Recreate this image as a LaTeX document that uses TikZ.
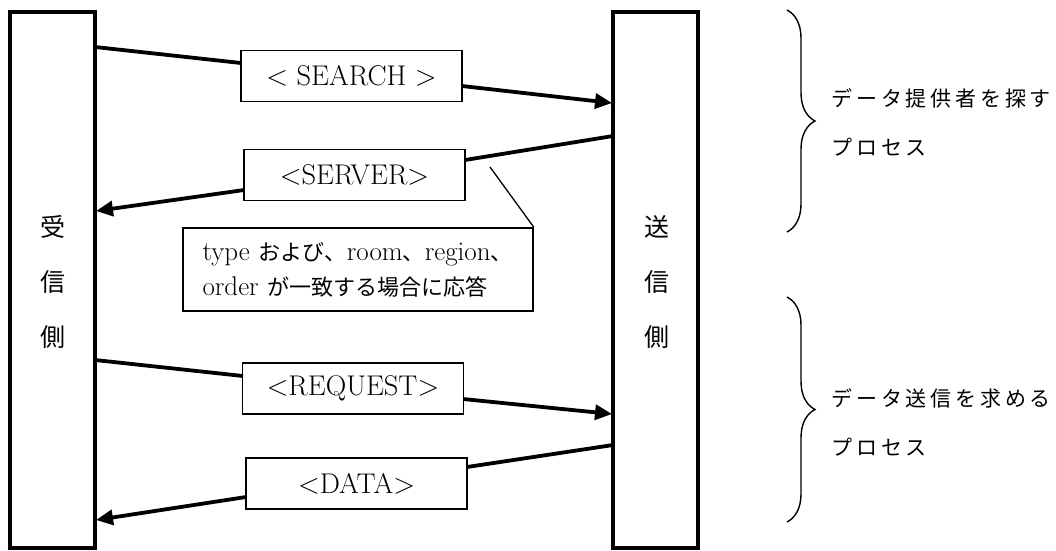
\documentclass[tikz,border=0pt]{standalone}
\usepackage{fontspec}
\newfontfamily\jpsans{Noto Sans CJK JP}
\newfontfamily\jpspaced[LetterSpace=18]{Noto Sans CJK JP}
\newcommand\jpn[1]{{\jpsans\fontsize{22}{35}\selectfont #1}}
\usetikzlibrary{arrows.meta,decorations.pathreplacing}
\begin{document}
\begin{tikzpicture}[x=1pt,y=-1pt,
  lifebox/.style={draw, line width=3.4pt, minimum width=85pt, minimum height=536pt, inner sep=0pt},
  lifelabel/.style={align=center, font=\jpsans\fontsize{25}{55}\selectfont},
  msgbox/.style={draw, line width=1.6pt, minimum width=221pt, minimum height=51pt, inner sep=0pt, font=\fontsize{28.5}{30}\selectfont},
  notebox/.style={draw, line width=1.6pt, minimum width=350pt, minimum height=83pt, inner xsep=19.5pt, text width=311pt, align=left, font=\fontsize{27}{35}\selectfont},
  conn/.style={line width=3.8pt},
  arr/.style={conn, -{Triangle[length=17pt,width=15pt]}},
  thinline/.style={line width=1.3pt},
  bracestyle/.style={line width=1.4pt, decorate, decoration={brace, amplitude=28pt}},
  sidetext/.style={anchor=west, align=left, font=\jpspaced\fontsize{21}{49}\selectfont}
]
\useasboundingbox (0,0) rectangle (1056,550);
% lifelines
\node[lifebox] (L) at (52.5,280) {};
\node[lifebox] (R) at (655.5,280) {};
\node[lifelabel] (Ltxt) at (53,282) {受\\信\\側};
\node[lifelabel] (Rtxt) at (657,282) {送\\信\\側};
% message boxes
\node[msgbox] (search) at (351.5,76) {< SEARCH >};
\node[msgbox] (server) at (354.5,175) {<SERVER>};
\node[msgbox] (request) at (353,388.5) {<REQUEST>};
\node[msgbox] (data) at (356.5,483.5) {<DATA>};
% note
\node[notebox] (note) at (358,269.5) {type \jpn{および、}room\jpn{、}region\jpn{、}\\order \jpn{が一致する場合に応答}};
% connector end points
\coordinate (s1) at (95,47);
\coordinate (s2) at (241,63);
\coordinate (s3) at (462,86);
\coordinate (s4) at (612,103);
\coordinate (v1) at (613,136);
\coordinate (v2) at (465,160);
\coordinate (v3) at (244,190);
\coordinate (v4) at (96,211);
\coordinate (r1) at (95,360);
\coordinate (r2) at (243,376);
\coordinate (r3) at (463,399);
\coordinate (r4) at (612,414);
\coordinate (d1) at (613,445);
\coordinate (d2) at (467,467);
\coordinate (d3) at (246,497);
\coordinate (d4) at (96,520);
\coordinate (n1) at (490,167);
% connectors
\draw[conn] (s1) -- (s2);
\draw[arr] (s3) -- (s4);
\draw[conn] (v1) -- (v2);
\draw[arr] (v3) -- (v4);
\draw[conn] (r1) -- (r2);
\draw[arr] (r3) -- (r4);
\draw[conn] (d1) -- (d2);
\draw[arr] (d3) -- (d4);
\draw[thinline] (n1) -- (note.north east);
% braces
\coordinate (b1t) at (787,10);
\coordinate (b1b) at (787,232);
\coordinate (b2t) at (787,297);
\coordinate (b2b) at (787,522);
\draw[bracestyle] (b1t) -- (b1b);
\draw[bracestyle] (b2t) -- (b2b);
\node[sidetext] (t1) at (828,122.5) {データ提供者を探す\\プロセス};
\node[sidetext] (t2) at (828,422.5) {データ送信を求める\\プロセス};
\end{tikzpicture}
\end{document}
